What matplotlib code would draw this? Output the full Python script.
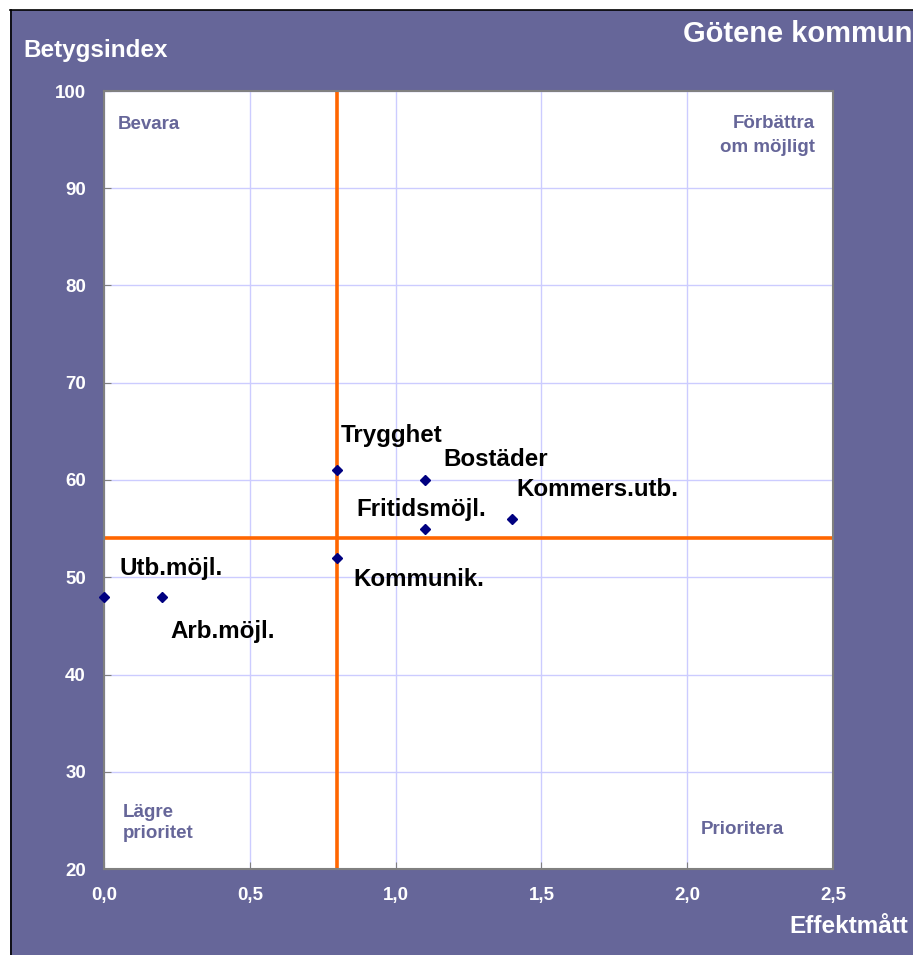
import matplotlib.pyplot as plt
from matplotlib.patches import Rectangle
from matplotlib.lines import Line2D

plt.rcParams['font.family'] = ['Liberation Sans', 'DejaVu Sans']
plt.rcParams['font.weight'] = 'bold'

W, H = 913, 955
purple = "#666699"
orange = "#FF6600"

# data
areas = ["Trygghet", "Bostäder", "Kommers.utb.", "Fritidsmöjl.", "Kommunik.", "Utb.möjl.", "Arb.möjl."]
effekt = [0.8, 1.1, 1.4, 1.1, 0.8, 0.0, 0.2]
betyg = [61, 60, 56, 55, 52, 48, 48]
label_offsets = [(2.2, 20.2), (13.7, 10.1), (2.9, 16.6), (-49, 9.4), (11.5, -20.2), (10.8, 15.8), (5.8, -29.5)]
mean_effekt = 0.8
mean_betyg = 54
x_ticks = [0.0, 0.5, 1.0, 1.5, 2.0, 2.5]
y_ticks = [20, 30, 40, 50, 60, 70, 80, 90, 100]


def fx(px):
    return px / W


def fy(py):
    return 1 - py / H


fig = plt.figure(figsize=(W / 100, H / 100), dpi=100, facecolor="white")

# purple background with black border on top and left
fig.patches.append(Rectangle((fx(10), 0), 1 - fx(10), fy(10), transform=fig.transFigure,
                             facecolor=purple, edgecolor="none", zorder=-5))
fig.lines.append(Line2D([fx(10), 1], [fy(10), fy(10)], transform=fig.transFigure, color="black", lw=1.2))
fig.lines.append(Line2D([fx(10.5), fx(10.5)], [0, fy(10)], transform=fig.transFigure, color="black", lw=1.2))

ax = fig.add_axes([fx(104), fy(869), fx(833) - fx(104), fy(91) - fy(869)])
ax.set_zorder(1)
ax.set_facecolor("white")
ax.set_xlim(0, 2.5)
ax.set_ylim(20, 100)
ax.set_xticks(x_ticks)
ax.set_xticklabels([f"{t:.1f}".replace(".", ",") for t in x_ticks])
ax.set_yticks(y_ticks)
ax.grid(True, color="#CCCCFF", lw=1)
ax.set_axisbelow(True)
for s in ax.spines.values():
    s.set_color("#808080")
    s.set_linewidth(1.5)
ax.tick_params(direction="in", length=5, color="#808080", labelcolor="white", labelsize=13.5)
ax.tick_params(axis="y", pad=13)
ax.tick_params(axis="x", pad=13)

ax.axvline(mean_effekt, color=orange, lw=2.6, zorder=2)
ax.axhline(mean_betyg, color=orange, lw=2.6, zorder=2)

ax.plot(effekt, betyg, "D", color="#000080", markersize=5, zorder=3, clip_on=False)
for name, x, y, off in zip(areas, effekt, betyg, label_offsets):
    ax.annotate(name, (x, y), xytext=off, textcoords="offset points",
                ha="left", va="baseline", fontsize=17.4, color="black", fontweight="bold")

# quadrant labels
qkw = dict(color=purple, fontsize=13.5, fontweight="bold", va="baseline", zorder=5)
fig.text(fx(118), fy(129), "Bevara", ha="left", **qkw)
fig.text(fx(815), fy(128), "Förbättra", ha="right", **qkw)
fig.text(fx(815), fy(152), "om möjligt", ha="right", **qkw)
fig.text(fx(123), fy(817), "Lägre", ha="left", **qkw)
fig.text(fx(123), fy(838), "prioritet", ha="left", **qkw)
fig.text(fx(701), fy(834), "Prioritera", ha="left", **qkw)

# axis titles and chart title
fig.text(fx(23), fy(57), "Betygsindex", color="white", fontsize=17.5, fontweight="bold", va="baseline")
fig.text(fx(908), fy(933), "Effektmått", color="white", fontsize=17.5, fontweight="bold",
         va="baseline", ha="right")
fig.text(fx(683), fy(42), "Götene kommun", color="white", fontsize=21, fontweight="bold", va="baseline")

fig.savefig("out.png", dpi=100, facecolor="white")
